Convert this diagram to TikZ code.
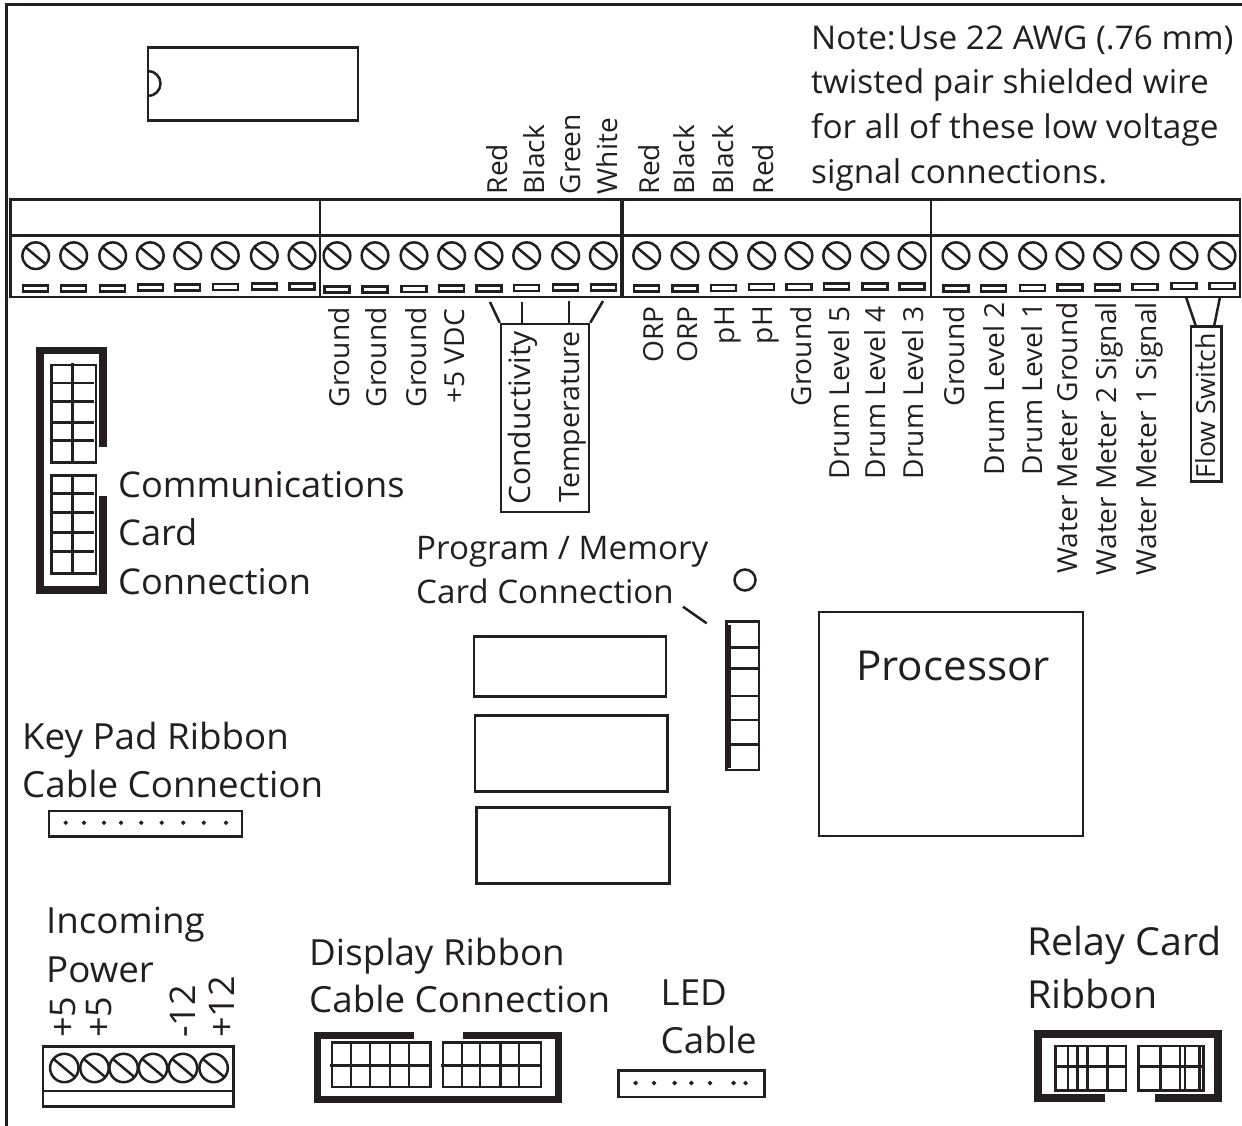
\documentclass[tikz,border=0pt]{standalone}
\usepackage{fontspec}
\setmainfont[FakeStretch=1.02]{Open Sans}
\definecolor{ink}{HTML}{231F20}
\newcommand{\txt}[1]{\fontsize{#1}{#1}\selectfont}
\tikzset{
  wire/.style={draw=ink,line width=2.5pt},
  thin wire/.style={draw=ink,line width=2.1pt},
  shell/.style={draw=ink,line width=7.5pt,line cap=butt,line join=miter},
  lab/.style={text=ink,inner sep=0pt,anchor=base west},
  uplab/.style={text=ink,inner sep=0pt,rotate=90,anchor=base west,font=\txt{27.6}},
  downlab/.style={text=ink,inner sep=0pt,rotate=90,anchor=base east,font=\txt{27.6}}
}
\begin{document}
\begin{tikzpicture}[x=1pt,y=-1pt]
\useasboundingbox (0,0) rectangle (1242,1126);

% frame and chip
\draw [draw=ink,line width=2.8pt] (1242,4.5) -- (6.5,4.5) -- (6.5,1126);
\draw [wire] (148,47.7) rectangle (358,120.7);
\draw [wire] (148,71) arc[start angle=-90,end angle=90,radius=12.5];

% terminal strip
\draw [wire] (10.5,199.5) rectangle (1240,297);
\draw [draw=ink,line width=3.2pt] (10.5,235.7) -- (622,235.7);
\draw [wire] (622,235.7) -- (1240,235.7);
\draw [wire] (320,199.5) -- (320,297);
\draw [draw=ink,line width=3.6pt] (622,199.5) -- (622,297);
\draw [wire] (931,199.5) -- (931,297);
\foreach \sx/\sy in {35.7/288.5,73.7/288.5,112.7/288.5,150.3/287.5,187.7/287.5,225.3/287,264.3/286.5,302/286.5,
  337/289.5,375/289.5,414/289,451.7/288.5,489/288.5,526.7/288,565.7/287.5,603.3/287.5,
  646.7/288.5,685/288.5,723.3/288,761.7/287,799/287,836.7/286.5,875/286.5,912/286.5,
  956/288.5,993.3/288.5,1032.7/288,1070/287.5,1107.7/287.5,1145/287,1184/286,1222/286} {
  \draw [wire] (\sx,255.7) circle[radius=13.3];
  \draw [wire] (\sx,255.7) ++(-140:13.3) -- ++(40:26.6);
  \draw [thin wire] (\sx-12.5,\sy-3) rectangle (\sx+12.5,\sy+3);
}

% labels above the strip
\foreach \lx/\ly/\ltxt [count=\i] in {507/194.5/Red,544/194.5/Black,580/194.5/Green,617/194.5/White,
  659/194.5/Red,694/194.5/Black,733/194.5/Black,773/194.5/Red}
  \node [uplab] (top\i) at (\lx,\ly) {\ltxt};

% labels below the strip
\foreach \lx/\ly/\ltxt [count=\i] in {349/307/Ground,386/307/Ground,426/307/Ground,464/309/+5 VDC,
  663/306/ORP,697/306/ORP,734/306/pH,772/306/pH,811/306/Ground,849/306/Drum Level 5,885/306/Drum Level 4,923/306/Drum Level 3,
  964/306/Ground,1004/302/Drum Level 2,1042/302/Drum Level 1,1077/302/Water Meter Ground,1116/302/Water Meter 2 Signal,1156/302/Water Meter 1 Signal}
  \node [downlab] (bot\i) at (\lx,\ly) {\ltxt};

% sensor boxes
\node [draw=ink,line width=2.5pt,inner sep=0pt,minimum width=88pt,minimum height=188pt] (sensorbox) at (545,418) {};
\node [downlab,font=\txt{29.5}] (conduct) at (530,331) {Conductivity};
\node [downlab,font=\txt{28}] (temp) at (579,331) {Temperature};
\coordinate (condA) at (490,302);
\coordinate (condB) at (522,302);
\coordinate (tempA) at (569,301);
\coordinate (tempB) at (603,301);
\draw [wire] (condA) -- (sensorbox.north west);
\draw [wire] (condB) -- (condB |- sensorbox.north);
\draw [wire] (tempA) -- (tempA |- sensorbox.north);
\draw [wire] (tempB) -- (sensorbox.north east);

\node [draw=ink,line width=2.5pt,inner sep=0pt,minimum width=30.5pt,minimum height=155pt] (flowbox) at (1206,404) {};
\node [downlab,font=\txt{26.3}] (flow) at (1215,333) {Flow Switch};
\coordinate (flowA) at (1186,297);
\coordinate (flowB) at (1220,297);
\draw [wire] (flowA) -- (1196,326.5);
\draw [wire] (flowB) -- (1214,326.5);

% note
\node [lab,font=\txt{32.7}] (note1) at (811,50) {Note:\kern-9pt{} Use 22 AWG (.76 mm)};
\node [lab,font=\txt{32.7}] (note2) at (811,94) {twisted pair shielded wire};
\node [lab,font=\txt{32.7}] (note3) at (811,139) {for all of these low voltage};
\node [lab,font=\txt{32.7}] (note4) at (811,184) {signal connections.};

% communications connector
\draw [shell] (103,446.7) -- (103,350.5) -- (40,350.5) -- (40,590) -- (103,590) -- (103,496);
\foreach \gy/\ga/\gb/\gc/\gd/\ge in {365/383/401.7/422.7/440.7/462.7,475.7/493.3/512.7/532.7/551.7/573.3} {
  \draw [wire] (51.7,\gy) rectangle (96,\ge);
  \draw [wire] (72.3,\gy-2) -- (72.3,\ge);
  \foreach \gl in {\ga,\gb,\gc,\gd}
    \draw [wire] (51.7,\gl) -- (94,\gl);
}
\node [lab,font=\txt{35.5}] (comm1) at (118,497) {Communications};
\node [lab,font=\txt{35.5}] (comm2) at (118,545) {Card};
\node [lab,font=\txt{35.5}] (comm3) at (118,594) {Connection};

% program connector
\node [lab,font=\txt{32.5}] (prog1) at (416,559) {Program / Memory};
\node [lab,font=\txt{32.5}] (prog2) at (416,603) {Card Connection};
\coordinate (progA) at (683,606.7);
\coordinate (progB) at (706.7,623.3);
\draw [wire] (progA) -- (progB);
\draw [wire] (745,580) circle[radius=10.5];
\draw [wire] (726.7,621.7) rectangle (759,770);
\draw [draw=ink,line width=3.6pt] (729.3,625) -- (729.3,768);
\foreach \gl in {647.7,668.7,696,720,744.3}
  \draw [wire] (726.7,\gl) -- (758,\gl);

% memory blocks and processor
\draw [wire] (474,636.7) rectangle (666,696.7);
\draw [wire] (475,715.7) rectangle (667.7,791.3);
\draw [wire] (476.7,807.7) rectangle (669.3,883.3);
\draw [wire] (819,612) rectangle (1083,836);
\node [lab,font=\txt{41.3}] (proc) at (856,680) {Processor};

% key pad connector
\node [lab,font=\txt{36}] (key1) at (22,749) {Key Pad Ribbon};
\node [lab,font=\txt{36}] (key2) at (22,797) {Cable Connection};
\draw [wire] (49,811) rectangle (242,836.7);
\foreach \dx in {65.7,84,104,121,141.3,161.7,183.3,203.7,226}
  \draw [thin wire] (\dx,822.7) circle[radius=0.9];

% incoming power
\node [lab,font=\txt{36}] (pow1) at (46,933) {Incoming};
\node [lab,font=\txt{36}] (pow2) at (46,982) {Power};
\node [uplab,font=\txt{35.3}] (volt1) at (75,1038) {+5};
\node [uplab,font=\txt{35.3}] (volt2) at (111,1038) {+5};
\node [uplab,font=\txt{35.3}] (volt3) at (195,1038) {-12};
\node [uplab,font=\txt{35.3}] (volt4) at (234,1038) {+12};
\draw [wire] (43,1046.7) rectangle (233.5,1106.7);
\draw [wire] (43,1091) -- (233.5,1091);
\foreach \sx in {64.3,94.5,123.6,153,183,213.6} {
  \draw [wire] (\sx,1068) circle[radius=14.2];
  \draw [wire] (\sx,1068) ++(-140:14.2) -- ++(40:28.4);
}

% display connector
\node [lab,font=\txt{36}] (disp1) at (309,965) {Display Ribbon};
\node [lab,font=\txt{36}] (disp2) at (309,1012) {Cable Connection};
\draw [shell] (414,1035.7) -- (317.7,1035.7) -- (317.7,1099.3) -- (558.3,1099.3) -- (558.3,1035.7) -- (463,1035.7);
\draw [wire] (332,1042.7) rectangle (430.5,1087);
\draw [wire] (330,1065.7) -- (430.5,1065.7);
\foreach \gl in {351,370,390,409}
  \draw [wire] (\gl,1042.7) -- (\gl,1087);
\draw [wire] (443,1042.7) rectangle (541,1087);
\draw [wire] (441,1065.7) -- (541,1065.7);
\foreach \gl in {462,480,500.5,519}
  \draw [wire] (\gl,1042.7) -- (\gl,1087);

% led cable
\node [lab,font=\txt{36}] (led1) at (660.5,1005) {LED};
\node [lab,font=\txt{36}] (led2) at (660.5,1053) {Cable};
\draw [wire] (618.5,1070.7) rectangle (764.7,1097);
\foreach \dx in {635.7,654,674.6,691.4,710,733.6,745.5}
  \draw [thin wire] (\dx,1083) circle[radius=1];

% relay connector
\node [lab,font=\txt{38.6}] (relay1) at (1027,955) {Relay Card};
\node [lab,font=\txt{38.6}] (relay2) at (1027,1008) {Ribbon};
\draw [shell] (1105,1098.2) -- (1038.2,1098.2) -- (1038.2,1033.8) -- (1218.2,1033.8) -- (1218.2,1098.2) -- (1154.5,1098.2);
\draw [wire] (1055.7,1046) rectangle (1126,1090.7);
\draw [wire] (1055.7,1066.7) -- (1127,1066.7);
\foreach \gl in {1068,1077.5,1087.7,1107.4}
  \draw [wire] (\gl,1046) -- (\gl,1090.7);
\draw [wire] (1138.5,1046) rectangle (1203.7,1090.7);
\draw [wire] (1138.5,1066.7) -- (1205,1066.7);
\foreach \gl in {1160.6,1180,1185,1199.6}
  \draw [wire] (\gl,1046) -- (\gl,1090.7);
\end{tikzpicture}
\end{document}
